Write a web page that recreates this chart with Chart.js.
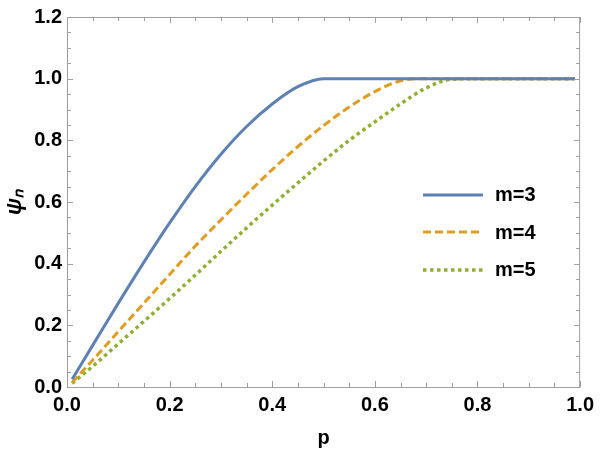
<!DOCTYPE html>
<html>
<head>
<meta charset="utf-8">
<script src="https://cdn.jsdelivr.net/npm/chart.js@4.4.1/dist/chart.umd.min.js"></script>
<style>
  body { margin: 0; background: #fff; }
  #wrap { position: relative; width: 600px; height: 450px; }
  #legend { position: absolute; left: 423px; top: 176px; font-family: "Liberation Sans", Arial, sans-serif; font-weight: bold; font-size: 20px; }
  #legend .row { display: flex; align-items: center; height: 37.5px; }
  #legend svg { width: 60px; height: 8px; margin-right: 12px; }
</style>
</head>
<body>
<div id="wrap">
  <canvas id="chart" width="600" height="450"></canvas>
  <div id="legend"></div>
</div>
<script>
const pValues = [0.01, 0.05, 0.1, 0.15, 0.2, 0.25, 0.3, 0.35, 0.4, 0.45, 0.5, 0.55, 0.6, 0.65, 0.7, 0.75, 0.8, 0.85, 0.9, 0.95, 0.99];
const psiM3 = [0.025, 0.135, 0.272, 0.405, 0.532, 0.65, 0.755, 0.845, 0.918, 0.974, 1.0, 1.0, 1.0, 1.0, 1.0, 1.0, 1.0, 1.0, 1.0, 1.0, 1.0];
const psiM4 = [0.015, 0.087, 0.18, 0.272, 0.365, 0.457, 0.542, 0.625, 0.705, 0.78, 0.848, 0.908, 0.958, 0.993, 1.0, 1.0, 1.0, 1.0, 1.0, 1.0, 1.0];
const psiM5 = [0.012, 0.067, 0.14, 0.213, 0.287, 0.363, 0.44, 0.516, 0.59, 0.662, 0.733, 0.8, 0.86, 0.918, 0.97, 0.998, 1.0, 1.0, 1.0, 1.0, 1.0];
const seriesLabels = ['m=3', 'm=4', 'm=5'];
const labelStep = 0.2;

const fontFamily = '"Liberation Sans", Arial, sans-serif';
const frameColor = '#a0a0a0';

function points(ys) {
    return pValues.map((p, i) => ({ x: p, y: ys[i] }));
}

function majorLabel(v) {
    const k = v / labelStep;
    return Math.abs(k - Math.round(k)) < 1e-6 ? v.toFixed(1) : '';
}

// Mathematica style frame with inward ticks on all four sides
const frameTicks = {
    id: 'frameTicks',
    afterDraw(chart) {
        const { ctx, chartArea: a, scales } = chart;
        ctx.save();
        ctx.strokeStyle = frameColor;
        ctx.lineWidth = 1;
        ctx.strokeRect(a.left + 0.5, a.top + 0.5, a.right - a.left - 1, a.bottom - a.top);
        ctx.beginPath();
        scales.x.ticks.forEach(t => {
            const px = Math.round(scales.x.getPixelForValue(t.value)) + 0.5;
            const len = t.label !== '' ? 6 : 4;
            ctx.moveTo(px, a.bottom); ctx.lineTo(px, a.bottom - len);
            ctx.moveTo(px, a.top); ctx.lineTo(px, a.top + len);
        });
        scales.y.ticks.forEach(t => {
            const py = Math.round(scales.y.getPixelForValue(t.value)) + 0.5;
            const len = t.label !== '' ? 6 : 4;
            ctx.moveTo(a.left, py); ctx.lineTo(a.left + len, py);
            ctx.moveTo(a.right, py); ctx.lineTo(a.right - len, py);
        });
        ctx.stroke();
        ctx.restore();
    }
};

const chart = new Chart(document.getElementById('chart'), {
    type: 'scatter',
    data: {
        datasets: [
            { label: seriesLabels[0], data: points(psiM3), borderColor: '#5e81b5', borderWidth: 3, borderDash: [] },
            { label: seriesLabels[1], data: points(psiM4), borderColor: '#e19c24', borderWidth: 3, borderDash: [8, 4] },
            { label: seriesLabels[2], data: points(psiM5), borderColor: '#8fb032', borderWidth: 3.5, borderDash: [3.5, 3.5] }
        ].map(d => Object.assign(d, {
            showLine: true,
            pointRadius: 0,
            fill: false,
            cubicInterpolationMode: 'monotone',
            borderCapStyle: 'butt'
        }))
    },
    options: {
        responsive: false,
        animation: false,
        layout: { padding: { top: 12, right: 15, left: 0, bottom: 0 } },
        plugins: { legend: { display: false }, tooltip: { enabled: false } },
        scales: {
            x: {
                type: 'linear',
                min: 0,
                max: 1,
                afterFit: s => { s.height = 63; },
                border: { display: false },
                grid: { drawOnChartArea: false, drawTicks: false },
                ticks: {
                    stepSize: 0.05,
                    autoSkip: false,
                    maxRotation: 0,
                    padding: 6,
                    color: '#000',
                    font: { family: fontFamily, size: 20, weight: 'bold' },
                    callback: majorLabel
                },
                title: {
                    display: true,
                    text: 'p',
                    color: '#000',
                    padding: { top: 6, bottom: 0 },
                    font: { family: fontFamily, size: 20, weight: 'bold' }
                }
            },
            y: {
                type: 'linear',
                min: 0,
                max: 1.2,
                afterFit: s => { s.width = 67; },
                border: { display: false },
                grid: { drawOnChartArea: false, drawTicks: false },
                ticks: {
                    stepSize: 0.05,
                    autoSkip: false,
                    padding: 5,
                    color: '#000',
                    font: { family: fontFamily, size: 20, weight: 'bold' },
                    callback: majorLabel
                },
                title: {
                    display: true,
                    text: 'ψₙ',
                    color: '#000',
                    padding: { top: 2, bottom: 0 },
                    font: { family: fontFamily, size: 22, weight: 'bold', style: 'italic' }
                }
            }
        }
    },
    plugins: [frameTicks]
});

// legend drawn in HTML from the dataset styles
const legend = document.getElementById('legend');
chart.data.datasets.forEach(d => {
    const row = document.createElement('div');
    row.className = 'row';
    const dash = d.borderDash.length ? d.borderDash.join(' ') : 'none';
    row.innerHTML = '<svg viewBox="0 0 60 8"><line x1="0" y1="4" x2="60" y2="4" stroke="' + d.borderColor +
        '" stroke-width="' + d.borderWidth + '" stroke-dasharray="' + dash + '"/></svg><span>' + d.label + '</span>';
    legend.appendChild(row);
});
</script>
</body>
</html>
